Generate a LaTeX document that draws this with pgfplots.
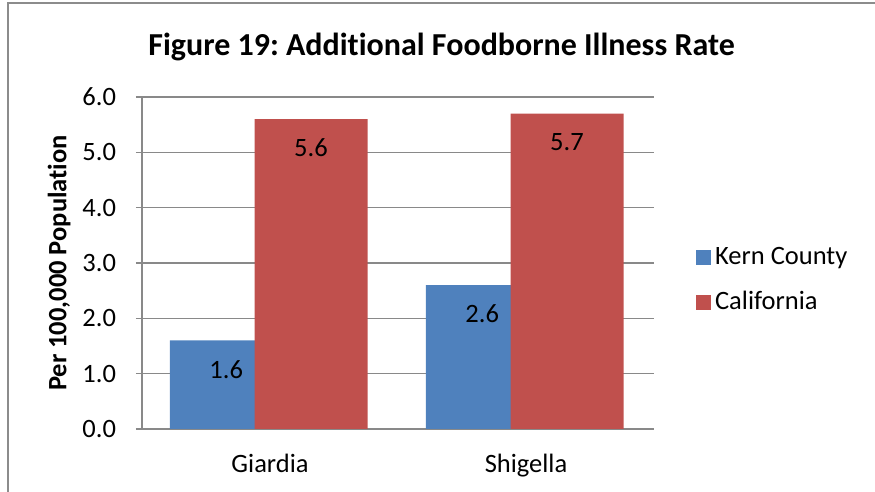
\documentclass[border=0pt]{standalone}
\usepackage{pgfplots}
\pgfplotsset{compat=1.18}
\usepackage{fontspec}
\setmainfont{Carlito}[Ligatures={NoCommon}]
\definecolor{kern}{HTML}{4F81BD}
\definecolor{cal}{HTML}{C0504D}
\definecolor{gridgray}{HTML}{898989}
\definecolor{framegray}{HTML}{8C8C8C}
\begin{document}
\frenchspacing
\fontsize{26.5}{31}\selectfont
\begin{tikzpicture}[x=1pt,y=1pt]
\path[use as bounding box] (0,0) rectangle (875,492);
% outer chart frame
\draw[framegray, line width=2pt] (8,-10) -- (8,489) -- (885,489);
\node[anchor=base, font=\fontsize{32}{37}\selectfont\bfseries] at (441.5,436)
  {Figure 19: Additional Foodborne Illness Rate};
\begin{axis}[
  at={(142pt,63pt)}, anchor=south west,
  scale only axis, width=512pt, height=332pt,
  xmin=-0.5, xmax=1.5, ymin=0, ymax=6,
  xtick={0,1}, xticklabels={Giardia, Shigella},
  x tick style={draw=none},
  xticklabel style={yshift=-10pt},
  extra x ticks={-0.5,0.5,1.5}, extra x tick labels={},
  extra x tick style={tick style={draw=gridgray, line width=1.6pt}, major tick length=8pt},
  ytick={0,1,2,3,4,5,6},
  tick align=outside, major tick length=6pt,
  y tick style={draw=gridgray, line width=1.6pt},
  ymajorgrids, grid style={draw=gridgray, line width=1.6pt},
  axis x line*=bottom, axis y line*=left,
  axis line style={draw=gridgray, line width=1.6pt, -},
  /pgf/number format/assume math mode=true,
  yticklabel style={xshift=-11pt, /pgf/number format/fixed, /pgf/number format/fixed zerofill, /pgf/number format/precision=1},
  ylabel={\bfseries Per 100,000 Population},
  ylabel style={at={(axis description cs:-0.162,0.5)}, anchor=center, rotate=0},
  ybar,
  nodes near coords={\pgfmathprintnumber[fixed,fixed zerofill,precision=1]{\pgfplotspointmeta}},
  nodes near coords style={anchor=center, yshift=-29pt},
  legend style={at={(rel axis cs:1.076,0.447)}, anchor=west, draw=none, fill=none,
    row sep=19pt, nodes={inner xsep=4pt}},
  legend cell align=left,
]
\addplot[fill=kern, draw=none, bar width=85pt, bar shift=-57.75pt,
  nodes near coords style={xshift=14pt},
  legend image code/.code={\fill[kern] (0pt,-7.5pt) rectangle (15pt,7.5pt);}]
  coordinates {(0,1.6) (1,2.6)};
\addlegendentry{Kern County}
\addplot[fill=cal, draw=none, bar width=113pt, bar shift=41pt,
  legend image code/.code={\fill[cal] (0pt,-7.5pt) rectangle (15pt,7.5pt);}]
  coordinates {(0,5.6) (1,5.7)};
\addlegendentry{California}
\end{axis}
\end{tikzpicture}
\end{document}
